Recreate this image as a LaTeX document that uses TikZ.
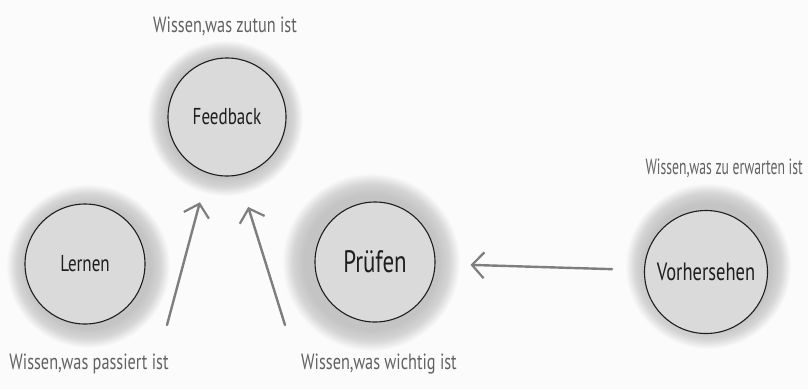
\documentclass[tikz,border=0pt]{standalone}
\usepackage{fontspec}
\setmainfont{PT Sans}
\newfontfamily\handfont[FakeStretch=0.74]{PT Sans}
\usetikzlibrary{arrows.meta}

\definecolor{bgcol}{HTML}{FBFBFB}
\definecolor{halocol}{HTML}{C4C4C4}
\definecolor{discfill}{HTML}{DADADA}
\definecolor{arrowcol}{HTML}{7E7E7E}
\definecolor{notecol}{HTML}{626262}
\definecolor{inkcol}{HTML}{1E1E1E}

% soft grey ring that fades into the paper (25bp = rim of the circle)
\pgfdeclareradialshading{haloshade}{\pgfpoint{0bp}{0bp}}{%
  color(0bp)=(halocol); color(19bp)=(halocol); color(22bp)=(halocol!70!bgcol);
  color(25bp)=(bgcol); color(50bp)=(bgcol)}

\tikzset{
  halo/.style={circle, draw=none, shading=haloshade, minimum size=#1, inner sep=0pt},
  disc/.style={circle, draw=inkcol, line width=1.1pt, fill=discfill,
               minimum size=#1, inner sep=0pt, text=inkcol,
               font=\handfont\fontsize{23}{23}\selectfont},
  note/.style={text=notecol, inner sep=0pt, font=\handfont\fontsize{22}{22}\selectfont},
  arr/.style={draw=arrowcol, line width=2.4pt, line cap=round,
              -{Straight Barb[length=12pt, width=26pt, line width=2.2pt]}}
}

\begin{document}
\begin{tikzpicture}[x=1pt, y=-1pt]
  \fill[bgcol] (0,0) rectangle (808,389);
  \useasboundingbox (0,0) rectangle (808,389);

  % halos
  \node[halo=156pt] (fbhalo) at (225,118) {};
  \node[halo=164pt] (lehalo) at (88,266) {};
  \node[halo=178pt] (prhalo) at (371,262) {};
  \node[halo=166pt] (vohalo) at (708,266) {};

  % discs
  \node[disc=118pt] (feedback) at (227,117) {Feedback};
  \node[disc=120pt] (lernen)   at (85,264)  {Lernen};
  \node[disc=120pt, font=\handfont\fontsize{31}{31}\selectfont] (pruefen) at (375,262) {Prüfen};
  \node[disc=123pt, font=\handfont\fontsize{25}{25}\selectfont] (vorher) at (706,272) {Vorhersehen};

  % captions
  \node[note] (capfb) at (225,26)  {Wissen,was zutun ist};
  \node[note] (caple) at (89,364)  {Wissen,was passiert ist};
  \node[note] (cappr) at (379,364) {Wissen,was wichtig ist};
  \node[note, anchor=east] (capvo) at (803,168) {\scalebox{0.84}[1]{Wissen,was zu erwarten ist}};

  % arrow tails
  \coordinate (tailA) at (167,325);
  \coordinate (tailB) at (285,325);

  % connectors
  \draw[arr, shorten >=30pt] (tailA) -- (feedback.251);
  \draw[arr, shorten >=33pt] (tailB) -- (feedback.281);
  \draw[arr, shorten <=32pt, shorten >=35pt] (vorher) -- (pruefen);
\end{tikzpicture}
\end{document}
